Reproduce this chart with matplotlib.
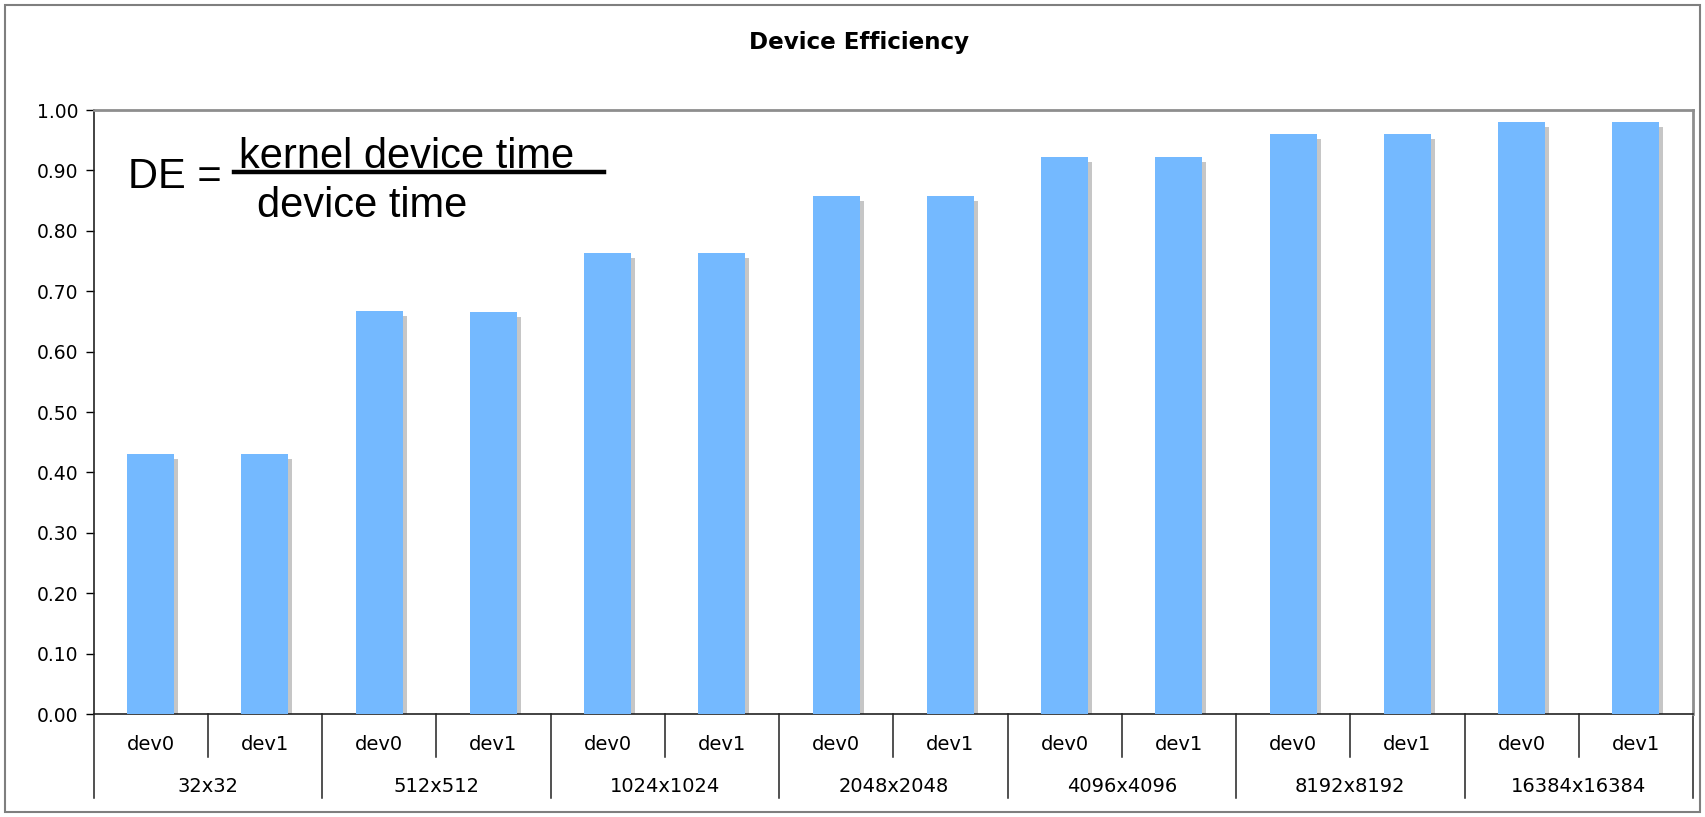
import matplotlib
matplotlib.use("Agg")
import matplotlib.pyplot as plt
import matplotlib.transforms as mtransforms
from matplotlib.lines import Line2D
from matplotlib.patches import Rectangle
import numpy as np

# matrix sizes and the two devices measured for each
sizes = ["32x32", "512x512", "1024x1024", "2048x2048",
         "4096x4096", "8192x8192", "16384x16384"]
devices = ["dev0", "dev1"]

# device efficiency per (size, device), in the order dev0, dev1 per size
efficiency = [0.431, 0.431,
              0.667, 0.665,
              0.763, 0.763,
              0.858, 0.858,
              0.923, 0.923,
              0.960, 0.960,
              0.980, 0.980]

yticks = np.arange(0, 1.01, 0.1)

W, H = 1705, 817
fig = plt.figure(figsize=(W / 100, H / 100), dpi=100)

# plot area in pixels: left 93.5, right 1693, top 110, bottom 714
ax = fig.add_axes([93.5 / W, 1 - 714 / H, (1693 - 93.5) / W, (714 - 110) / H])

x = np.arange(len(efficiency))
bar_w = 0.41

# grey drop shadow, shifted 4px right and 5px down
shadow = ax.transData + mtransforms.ScaledTranslation(4 / 100, -5 / 100, fig.dpi_scale_trans)
ax.bar(x, efficiency, width=bar_w, color="#C6C6C6", transform=shadow, zorder=2)
ax.bar(x, efficiency, width=bar_w, color="#74B9FF", zorder=3)

ax.set_xlim(-0.5, len(efficiency) - 0.5)
ax.set_ylim(0, 1.0)
ax.set_yticks(yticks)
ax.set_yticklabels([f"{v:.2f}" for v in yticks])
ax.tick_params(axis="y", length=6, width=1, direction="out", labelsize=13.5, pad=5)
ax.set_xticks([])

for side in ("left", "bottom"):
    ax.spines[side].set_color("#222222")
    ax.spines[side].set_linewidth(1.2)
for side in ("top", "right"):
    ax.spines[side].set_color("#8E8E8E")
    ax.spines[side].set_linewidth(2)

# two-level category axis below the plot
tr = mtransforms.blended_transform_factory(ax.transData, ax.transAxes)
dev_row = -43 / 604
size_row = -84 / 604
for k, size in enumerate(sizes):
    left = 2 * k - 0.5
    ax.add_line(Line2D([left, left], [0, size_row], transform=tr,
                       color="#222222", lw=1.1, clip_on=False))
    mid = 2 * k + 0.5
    ax.add_line(Line2D([mid, mid], [0, dev_row], transform=tr,
                       color="#222222", lw=1.1, clip_on=False))
    for j, dev in enumerate(devices):
        ax.text(2 * k + j, -31 / 604, dev, transform=tr, ha="center",
                va="center", fontsize=14)
    ax.text(mid, -72 / 604, size, transform=tr, ha="center",
            va="center", fontsize=14)
end = len(efficiency) - 0.5
ax.add_line(Line2D([end, end], [0, size_row], transform=tr,
                   color="#222222", lw=1.1, clip_on=False))

# title and outer chart border
fig.text(0.504, 1 - 42 / H, "Device Efficiency", ha="center", va="center",
         fontsize=16.6, fontweight="bold")
fig.add_artist(Rectangle((5 / W, 5 / H), (W - 10) / W, (H - 10) / H,
                         transform=fig.transFigure, fill=False,
                         edgecolor="#7F7F7F", lw=1.5))

# formula annotation
ffam = ["Liberation Sans", "DejaVu Sans"]
fig.text(128 / W, 1 - 188 / H, "DE =", ha="left", va="baseline",
         fontsize=30, family=ffam)
fig.text(239 / W, 1 - 168 / H, "kernel device time", ha="left",
         va="baseline", fontsize=30, family=ffam)
fig.text(257 / W, 1 - 217 / H, "device time", ha="left", va="baseline",
         fontsize=30, family=ffam)
fig.add_artist(Line2D([234 / W, 604 / W], [1 - 171.5 / H, 1 - 171.5 / H],
                      transform=fig.transFigure, color="black", lw=3.2))

fig.savefig("out.png", dpi=100)
